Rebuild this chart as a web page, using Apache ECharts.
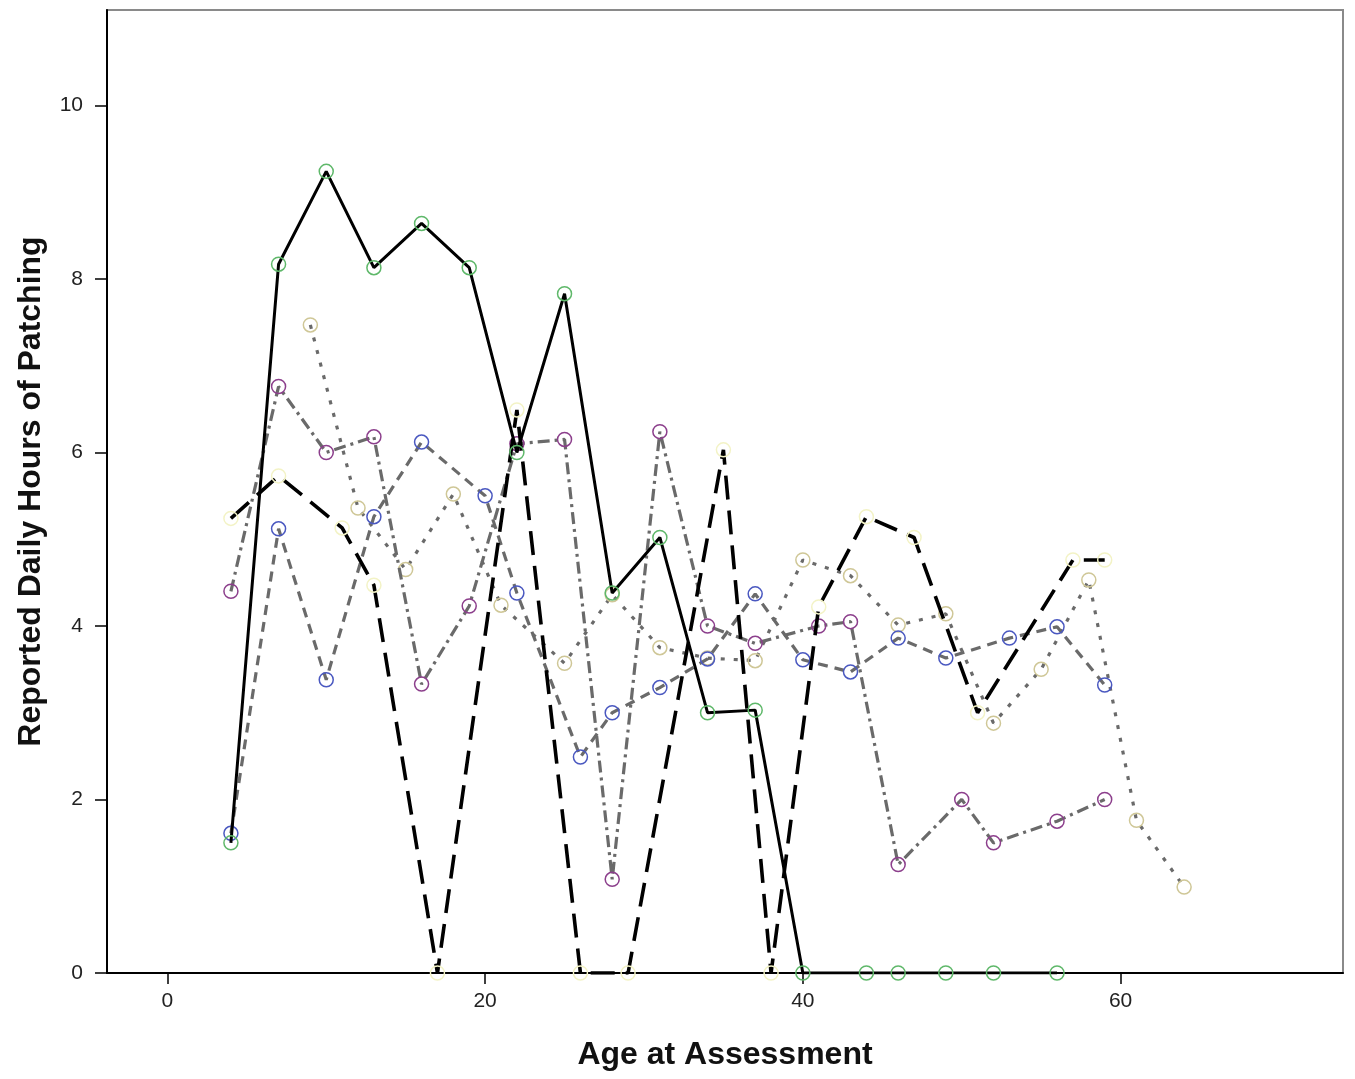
<!DOCTYPE html>
<html>
<head>
<meta charset="utf-8">
<script src="https://cdn.jsdelivr.net/npm/echarts/dist/echarts.min.js"></script>
<style>
html,body{margin:0;padding:0;background:#fff;}
#chart{width:1355px;height:1079px;}
</style>
</head>
<body>
<div id="chart"></div>
<script>
// Series A: green markers, solid black line
const ageA   = [4, 7, 10, 13, 16, 19, 22, 25, 28, 31, 34, 37, 40, 44, 46, 49, 52, 56];
const hoursA = [1.5, 8.17, 9.24, 8.13, 8.64, 8.13, 6.0, 7.83, 4.38, 5.02, 3.0, 3.03, 0, 0, 0, 0, 0, 0];
// Series B: yellow markers, long-dashed black line
const ageB   = [4, 7, 11, 13, 17, 22, 26, 29, 35, 38, 41, 44, 47, 51, 57, 59];
const hoursB = [5.24, 5.73, 5.13, 4.47, 0, 6.49, 0, 0, 6.03, 0, 4.22, 5.26, 5.02, 3.0, 4.76, 4.76];
// Series C: purple markers, dash-dot grey line
const ageC   = [4, 7, 10, 13, 16, 19, 22, 25, 28, 31, 34, 37, 41, 43, 46, 50, 52, 56, 59];
const hoursC = [4.4, 6.76, 6.0, 6.18, 3.33, 4.23, 6.1, 6.15, 1.08, 6.24, 4.0, 3.8, 4.0, 4.05, 1.25, 2.0, 1.5, 1.75, 2.0];
// Series D: blue markers, dashed grey line
const ageD   = [4, 7, 10, 13, 16, 20, 22, 26, 28, 31, 34, 37, 40, 43, 46, 49, 53, 56, 59];
const hoursD = [1.61, 5.12, 3.38, 5.26, 6.12, 5.5, 4.38, 2.49, 3.0, 3.29, 3.62, 4.37, 3.61, 3.47, 3.86, 3.63, 3.86, 3.99, 3.32];
// Series E: beige markers, dotted grey line
const ageE   = [9, 12, 15, 18, 21, 25, 28, 31, 34, 37, 40, 43, 46, 49, 52, 55, 58, 61, 64];
const hoursE = [7.47, 5.36, 4.65, 5.52, 4.24, 3.57, 4.36, 3.75, 3.63, 3.6, 4.76, 4.58, 4.01, 4.14, 2.88, 3.5, 4.53, 1.76, 0.99];

const xTicks = [0, 20, 40, 60];
const yTicks = [0, 2, 4, 6, 8, 10];

function pairs(xs, ys) { return xs.map((x, i) => [x, ys[i]]); }

const FONT = '"Liberation Sans", Arial, sans-serif';

function mkSeries(name, xs, ys, lineColor, width, dash, markColor, z) {
  return {
    name: name,
    type: 'line',
    data: pairs(xs, ys),
    z: z,
    symbol: 'circle',
    symbolSize: 14,
    showSymbol: true,
    itemStyle: { color: 'rgba(0,0,0,0)', borderColor: markColor, borderWidth: 1.5 },
    lineStyle: { color: lineColor, width: width, type: dash, cap: 'butt' },
    emphasis: { disabled: true },
    animation: false
  };
}

const chart = echarts.init(document.getElementById('chart'), null, { renderer: 'canvas' });
chart.setOption({
  animation: false,
  backgroundColor: '#ffffff',
  grid: {
    left: 107, right: 12, top: 10, bottom: 106,
    show: true, borderColor: '#8a8a8a', borderWidth: 2, backgroundColor: '#fff'
  },
  xAxis: {
    type: 'value',
    min: -3.8, max: 74,
    name: 'Age at Assessment',
    nameLocation: 'middle',
    nameGap: 66,
    nameTextStyle: { fontFamily: FONT, fontWeight: 'bold', fontSize: 32, color: '#111' },
    axisLine: { show: true, onZero: false, lineStyle: { color: '#000', width: 2 } },
    axisTick: { show: true, length: 11, customValues: xTicks, lineStyle: { color: '#000', width: 1.5 } },
    axisLabel: { customValues: xTicks, margin: 18, fontFamily: FONT, fontSize: 21, color: '#222' },
    splitLine: { show: false }
  },
  yAxis: {
    type: 'value',
    min: 0, max: 11.1,
    name: 'Reported Daily Hours of Patching',
    nameLocation: 'middle',
    nameGap: 60,
    nameTextStyle: { fontFamily: FONT, fontWeight: 'bold', fontSize: 32, color: '#111' },
    axisLine: { show: true, onZero: false, lineStyle: { color: '#000', width: 2 } },
    axisTick: { show: true, length: 12, customValues: yTicks, lineStyle: { color: '#000', width: 1.5 } },
    axisLabel: { customValues: yTicks, margin: 24, fontFamily: FONT, fontSize: 21, color: '#222' },
    splitLine: { show: false }
  },
  series: [
    mkSeries('E', ageE, hoursE, '#6a6a6a', 3.2, [4, 9], '#cfc797', 2),
    mkSeries('D', ageD, hoursD, '#6a6a6a', 3.2, [10, 7], '#4a58c0', 3),
    mkSeries('C', ageC, hoursC, '#6a6a6a', 3.2, [12, 5, 3, 5], '#8c3f8c', 4),
    mkSeries('B', ageB, hoursB, '#000000', 3.6, [24, 11], '#f3f3c6', 5),
    mkSeries('A', ageA, hoursA, '#000000', 3, 'solid', '#5fb86a', 6)
  ]
});
</script>
</body>
</html>
